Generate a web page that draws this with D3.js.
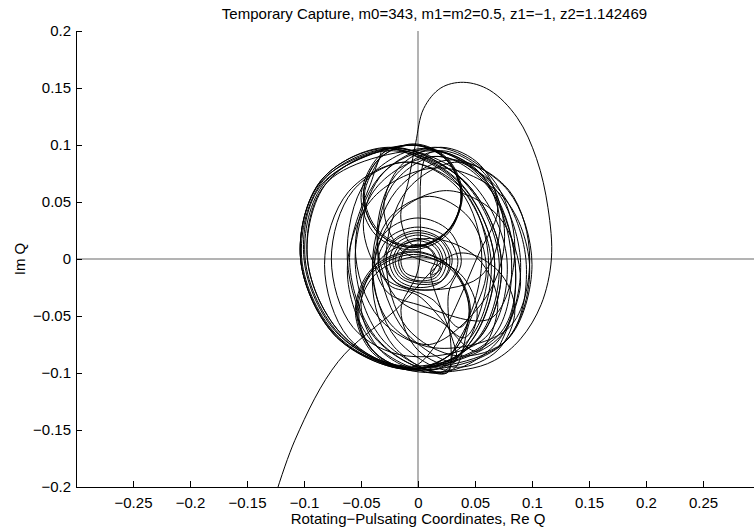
<!DOCTYPE html>
<html>
<head>
<meta charset="utf-8">
<script src="https://cdn.jsdelivr.net/npm/d3@7"></script>
<style>
  body { margin: 0; background: #fff; }
  svg { display: block; font-family: "Liberation Sans", Arial, Helvetica, sans-serif; }
</style>
</head>
<body>
<div id="chart"></div>
<script>
const titleText = "Temporary Capture, m0=343, m1=m2=0.5, z1=\u22121, z2=1.142469";
const xLabel = "Rotating\u2212Pulsating Coordinates, Re Q";
const yLabel = "Im Q";

const xTicks = [-0.25, -0.2, -0.15, -0.1, -0.05, 0, 0.05, 0.1, 0.15, 0.2, 0.25];
const yTicks = [-0.2, -0.15, -0.1, -0.05, 0, 0.05, 0.1, 0.15, 0.2];

// incoming arm, lower left (runs off the bottom axis)
const captureTail = [[-0.135,-0.24],[-0.108,-0.159],[-0.07,-0.09],[-0.02,-0.045]];

// first run of turns (8 points read round each turn, clockwise)
const orbitA = [
  [0.035,0.005],[0.07,-0.01],[0.085,-0.045],[0.07,-0.08],[0.035,-0.095],[0,-0.08],[-0.015,-0.045],[0,-0.01],
  [0.01,0.093],[0.065,0.065],[0.09,-0.003],[0.071,-0.071],[0.02,-0.099],[-0.035,-0.071],[-0.06,-0.003],[-0.042,0.065],
  [-0.025,0.097],[0.04,0.069],[0.073,0],[0.054,-0.069],[-0.005,-0.097],[-0.07,-0.069],[-0.103,0],[-0.084,0.069],
  [-0.005,0.1],[0.025,0.087],[0.038,0.055],[0.025,0.023],[-0.005,0.01],[-0.035,0.023],[-0.048,0.055],[-0.035,0.087],
  [-0.006,0.1],[0.025,0.087],[0.038,0.054],[0.025,0.021],[-0.006,0.008],[-0.037,0.021],[-0.05,0.054],[-0.037,0.087],
  [-0.022,0.096],[0.041,0.068],[0.073,0],[0.055,-0.068],[-0.002,-0.096],[-0.065,-0.068],[-0.097,0],[-0.079,0.068],
  [0.017,0.095],[0.061,0.067],[0.085,0],[0.073,-0.067],
  [-0.004,-0.096],[-0.039,-0.081],[-0.053,-0.046],[-0.039,-0.011],[-0.004,0.004],[0.031,-0.011],[0.045,-0.046],[0.031,-0.081],
  [-0.005,-0.097],[-0.04,-0.082],[-0.055,-0.045],[-0.04,-0.008],[-0.005,0.007],[0.03,-0.008],[0.045,-0.045],[0.03,-0.082],
  [-0.008,-0.097],[-0.071,-0.069],[-0.103,0],[-0.085,0.069],[-0.028,0.097],[0.035,0.069],[0.067,0],[0.049,-0.069],
  [0.01,-0.098],[-0.032,-0.081],[-0.05,-0.04],[-0.032,0.001],[0.01,0.018],[0.052,0.001],[0.07,-0.04],[0.052,-0.081],
  [0,-0.032],[-0.025,-0.023],[-0.035,-0.002],[-0.025,0.019],[0,0.028],[0.025,0.019],[0.035,-0.002],[0.025,-0.023],
  [0,-0.027],[-0.021,-0.019],[-0.03,-0.001],[-0.021,0.017],[0,0.025],[0.021,0.017],[0.03,-0.001],[0.021,-0.019],
  [0,-0.022],[-0.016,-0.016],[-0.022,-0.002],[-0.016,0.012],[0,0.018],[0.016,0.012],[0.022,-0.002],[0.016,-0.016],
  [0,-0.019],[-0.012,-0.014],[-0.017,-0.003],[-0.012,0.008],[0,0.013],[0.012,0.008],[0.017,-0.003],[0.012,-0.014],
  [0.02,-0.008],[-0.015,0.008],[-0.03,0.045],[-0.015,0.082],[0.02,0.098],[0.055,0.082],[0.07,0.045],[0.055,0.008],
  [-0.005,-0.095],[-0.066,-0.067],[-0.097,0],[-0.08,0.067],[-0.025,0.095],[0.036,0.067],[0.067,0],[0.05,-0.067],
  [0.015,-0.097],[-0.038,-0.069],[-0.062,0],[-0.045,0.069],[0.005,0.097],[0.058,0.069],[0.082,0],[0.065,-0.069],
  [-0.01,-0.094],[-0.07,-0.066],[-0.1,0],[-0.084,0.066],
  [-0.004,0.1],[0.026,0.087],[0.038,0.056],[0.026,0.025],[-0.004,0.012]
];

// the wide excursion above the tangle
const excursion = [[-0.015,0.035],[-0.008,0.07],[-0.002,0.102],[0.005,0.132],[0.02,0.15],
  [0.04,0.155],[0.063,0.148],[0.087,0.124],[0.104,0.088],[0.114,0.045],[0.117,0],
  [0.108,-0.04],[0.09,-0.07],[0.067,-0.089],[0.041,-0.097]];

// second run of turns
const orbitB = [
  [-0.006,-0.098],[-0.071,-0.069],[-0.103,0],[-0.085,0.069],[-0.026,0.098],[0.039,0.069],[0.071,0],[0.053,-0.069],
  [0,-0.098],[-0.037,-0.083],[-0.052,-0.048],[-0.037,-0.013],[0,0.002],[0.037,-0.013],[0.052,-0.048],[0.037,-0.083],
  [0.018,-0.1],[-0.039,-0.074],[-0.062,-0.01],[-0.039,0.054],[0.018,0.08],[0.075,0.054],[0.098,-0.01],[0.075,-0.074],
  [-0.002,-0.097],[-0.069,-0.069],[-0.102,0],[-0.083,0.069],[-0.022,0.097],[0.045,0.069],[0.078,0],[0.059,-0.069],
  [-0.01,-0.085],[-0.057,-0.06],[-0.076,0],[-0.057,0.06],[-0.01,0.085],[0.037,0.06],[0.056,0],[0.037,-0.06],
  [0.012,-0.035],[-0.03,-0.016],[-0.048,0.03],[-0.03,0.076],[0.012,0.095],[0.054,0.076],[0.072,0.03],[0.054,-0.016],
  [0,-0.027],[-0.02,-0.02],[-0.028,-0.002],[-0.02,0.016],[0,0.023],[0.02,0.016],[0.028,-0.002],[0.02,-0.02],
  [0,-0.025],[-0.018,-0.018],[-0.025,-0.002],[-0.018,0.014],[0,0.021],[0.018,0.014],[0.025,-0.002],[0.018,-0.018],
  [0,-0.02],[-0.014,-0.015],[-0.02,-0.002],[-0.014,0.011],[0,0.016],[0.014,0.011],[0.02,-0.002],[0.014,-0.015],
  [0,-0.016],[-0.011,-0.012],[-0.015,-0.002],[-0.011,0.008],[0,0.012],[0.011,0.008],[0.015,-0.002],[0.011,-0.012],
  [0.033,-0.09],[-0.011,-0.064],[-0.035,0],[-0.023,0.064],[0.017,0.09],[0.061,0.064],[0.085,0],[0.073,-0.064],
  [-0.004,-0.096],[-0.067,-0.068],[-0.099,0],[-0.081,0.068],
  [-0.005,0.1],[0.025,0.087],[0.038,0.055],[0.025,0.023],[-0.005,0.01],[-0.035,0.023],[-0.048,0.055],[-0.035,0.087],
  [-0.004,0.101],[0.026,0.088],[0.039,0.056],[0.026,0.024],[-0.004,0.011],[-0.034,0.024],[-0.047,0.056],[-0.034,0.088],
  [-0.03,0.097],[0.032,0.069],[0.064,0],[0.046,-0.069],
  [-0.004,-0.096],[-0.039,-0.081],[-0.054,-0.045],[-0.039,-0.009],[-0.004,0.006],[0.031,-0.009],[0.046,-0.045],[0.031,-0.081],
  [0.025,-0.1],[-0.03,-0.072],[-0.055,-0.005],[-0.037,0.062],[0.015,0.09],[0.07,0.062],[0.095,-0.005],[0.077,-0.072],
  [-0.01,-0.095],[-0.061,-0.069],[-0.082,-0.005],[-0.061,0.059],[-0.01,0.085],[0.041,0.059],[0.062,-0.005],[0.041,-0.069],
  [0.02,-0.055],[-0.02,-0.033],[-0.036,0.02],[-0.02,0.073],[0.02,0.095],[0.06,0.073],[0.076,0.02],[0.06,-0.033],
  [0.01,-0.075],[-0.025,-0.056],[-0.04,-0.01],[-0.025,0.036],[0.01,0.055],[0.045,0.036],[0.06,-0.01],[0.045,-0.056],
  [0.03,-0.097],[-0.019,-0.07],[-0.04,-0.005],[-0.019,0.06],[0.03,0.087],[0.079,0.06],[0.1,-0.005],[0.079,-0.07],
  [0.035,-0.085],[-0.01,-0.06],[-0.028,0],[-0.01,0.06],[0.035,0.085],[0.08,0.06],[0.098,0],[0.08,-0.06],
  [0.015,-0.078],[-0.034,-0.052],[-0.055,0.01],[-0.034,0.072],[0.015,0.098],[0.064,0.072],[0.085,0.01],[0.064,-0.052],
  [0,-0.04],[-0.027,-0.029],[-0.038,-0.002],[-0.027,0.025],[0,0.036],[0.027,0.025],[0.038,-0.002],[0.027,-0.029],
  [0.025,-0.1],[-0.021,-0.077],[-0.04,-0.02],[-0.021,0.037],[0.025,0.06],[0.071,0.037],[0.09,-0.02],[0.071,-0.077]
];

const width = 754;
const height = 529;
const plotLeft = 76, plotRight = 760, plotTop = 31, plotBottom = 487;

const svg = d3.select("#chart").append("svg")
  .attr("width", width)
  .attr("height", height);

const x = d3.scaleLinear().domain([-0.3, 0.3]).range([plotLeft, plotRight]);
const y = d3.scaleLinear().domain([-0.2, 0.2]).range([plotBottom, plotTop]);

svg.append("defs").append("clipPath")
  .attr("id", "plot-clip")
  .append("rect")
  .attr("x", plotLeft).attr("y", plotTop)
  .attr("width", plotRight - plotLeft).attr("height", plotBottom - plotTop);

// zero lines
svg.append("line")
  .attr("x1", x(0)).attr("x2", x(0))
  .attr("y1", y(0.2)).attr("y2", y(-0.2))
  .attr("stroke", "#000").attr("stroke-width", 0.6);
svg.append("line")
  .attr("x1", x(-0.3)).attr("x2", x(0.3))
  .attr("y1", y(0)).attr("y2", y(0))
  .attr("stroke", "#000").attr("stroke-width", 0.6);

const trajectory = captureTail.concat(orbitA, excursion, orbitB);

const line = d3.line()
  .x(d => x(d[0]))
  .y(d => y(d[1]))
  .curve(d3.curveCatmullRom.alpha(0.5));

svg.append("path")
  .datum(trajectory)
  .attr("clip-path", "url(#plot-clip)")
  .attr("fill", "none")
  .attr("stroke", "#000")
  .attr("stroke-width", 1)
  .attr("d", line);

const fmt = d3.format("~g");
const xAxis = d3.axisBottom(x)
  .tickValues(xTicks)
  .tickFormat(fmt)
  .tickSizeInner(-6)
  .tickSizeOuter(0)
  .tickPadding(10);
const yAxis = d3.axisLeft(y)
  .tickValues(yTicks)
  .tickFormat(fmt)
  .tickSizeInner(-6)
  .tickSizeOuter(0)
  .tickPadding(5);

const gx = svg.append("g")
  .attr("transform", `translate(0,${plotBottom})`)
  .call(xAxis);
const gy = svg.append("g")
  .attr("transform", `translate(${plotLeft},0)`)
  .call(yAxis);

[gx, gy].forEach(g => {
  g.attr("font-family", null).attr("font-size", 15);
  g.selectAll("text").attr("fill", "#000");
  g.selectAll("line, path").attr("stroke", "#000");
});

svg.append("text")
  .attr("x", 434.5)
  .attr("y", 19)
  .attr("text-anchor", "middle")
  .attr("font-size", 15)
  .text(titleText);

svg.append("text")
  .attr("x", x(0))
  .attr("y", 524)
  .attr("text-anchor", "middle")
  .attr("font-size", 15)
  .text(xLabel);

svg.append("text")
  .attr("transform", `translate(25,${y(0)}) rotate(-90)`)
  .attr("text-anchor", "middle")
  .attr("font-size", 15)
  .text(yLabel);
</script>
</body>
</html>
